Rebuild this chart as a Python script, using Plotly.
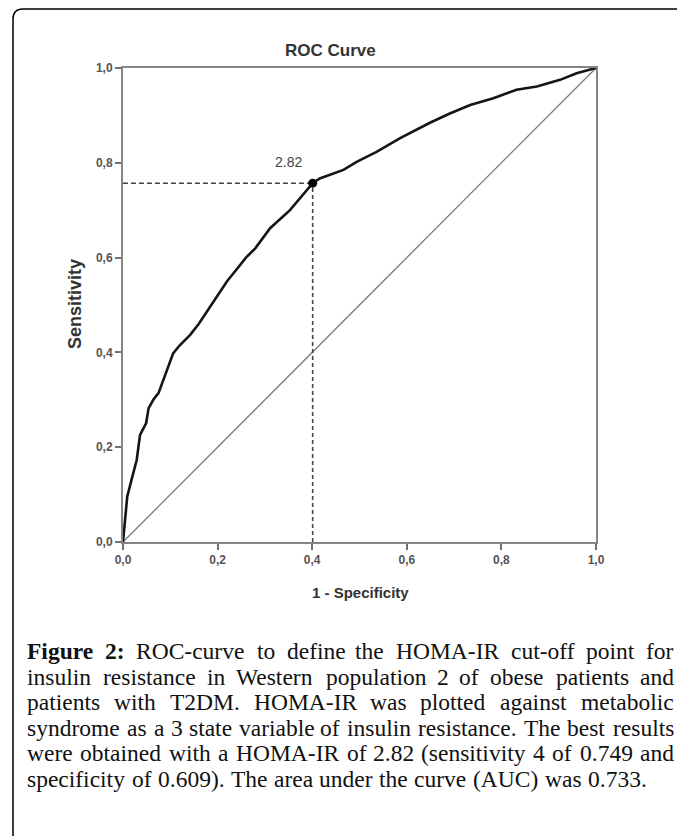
import plotly.graph_objects as go

# ---------------- data ----------------
fpr = [0, 0.004, 0.009, 0.018, 0.029, 0.036, 0.049, 0.054, 0.064, 0.075, 0.085,
       0.096, 0.106, 0.12, 0.142, 0.16, 0.18, 0.2, 0.22, 0.24, 0.26, 0.28, 0.311,
       0.353, 0.381, 0.401, 0.416, 0.44, 0.466, 0.494, 0.536, 0.586, 0.62, 0.65,
       0.691, 0.734, 0.783, 0.832, 0.875, 0.924, 0.959, 1.0]
tpr = [0, 0.05, 0.096, 0.131, 0.173, 0.226, 0.251, 0.282, 0.30, 0.314, 0.342,
       0.370, 0.398, 0.415, 0.437, 0.46, 0.49, 0.52, 0.55, 0.575, 0.60, 0.62, 0.662,
       0.700, 0.732, 0.757, 0.767, 0.776, 0.785, 0.802, 0.823, 0.852, 0.87, 0.885,
       0.904, 0.922, 0.936, 0.954, 0.961, 0.975, 0.989, 1.0]
ref_x = [0, 1]
ref_y = [0, 1]
cut_x = 0.401
cut_y = 0.757
cut_label = "2.82"
tick_vals = [0, 0.2, 0.4, 0.6, 0.8, 1.0]
tick_text = ["0,0", "0,2", "0,4", "0,6", "0,8", "1,0"]
title_text = "ROC Curve"
x_title = "1 - Specificity"
y_title = "Sensitivity"
caption_lines = [
    ("<b>Figure</b> <b>2:</b> ROC-curve to define the HOMA-IR cut-off point for", True),
    ("insulin resistance in Western population 2 of obese patients and", True),
    ("patients with T2DM. HOMA-IR was plotted against metabolic", True),
    ("syndrome as a 3 state variable of insulin resistance. The best results", True),
    ("were obtained with a HOMA-IR of 2.82 (sensitivity 4 of 0.749 and", True),
    ("specificity of 0.609). The area under the curve (AUC) was 0.733.", False),
]

# ---------------- geometry (reference pixels) ----------------
W, H = 677, 836
PL, PT, PR, PB = 123, 68, 596, 542          # plot box
PW, PH = PR - PL, PB - PT


def px(xp):
    return (xp - PL) / PW


def py(yp):
    return (PB - yp) / PH


fig = go.Figure()

fig.add_trace(go.Scatter(x=ref_x, y=ref_y, mode="lines",
                         line=dict(color="#7a7a7a", width=1.3), hoverinfo="skip"))
fig.add_trace(go.Scatter(x=[0, cut_x], y=[cut_y, cut_y], mode="lines",
                         line=dict(color="#444444", width=1.6, dash="5px,3px"),
                         hoverinfo="skip"))
fig.add_trace(go.Scatter(x=[cut_x, cut_x], y=[0, cut_y], mode="lines",
                         line=dict(color="#444444", width=1.6, dash="4px,3px"),
                         hoverinfo="skip"))
fig.add_trace(go.Scatter(x=fpr, y=tpr, mode="lines",
                         line=dict(color="#151515", width=2.6)))
fig.add_trace(go.Scatter(x=[cut_x], y=[cut_y], mode="markers",
                         marker=dict(color="black", size=9)))

axis_common = dict(range=[0, 1], showgrid=False, zeroline=False, showline=True,
                   linecolor="#858585", linewidth=2, mirror=True, ticks="outside",
                   ticklen=6, tickwidth=2, tickcolor="#707070",
                   tickvals=tick_vals, ticktext=tick_text,
                   tickfont=dict(family="Liberation Sans", size=12, color="#555555",
                                 weight="bold"))

fig.update_xaxes(**axis_common)
fig.update_yaxes(**axis_common)

annotations = [
    dict(text=cut_label, x=cut_x, y=cut_y, xref="x", yref="y", showarrow=False,
         xanchor="center", yanchor="middle", xshift=289 - (PL + cut_x * PW),
         yshift=(PB - cut_y * PH) - 162,
         font=dict(family="Liberation Sans", size=14, color="#444444")),
    dict(text="<b>%s</b>" % title_text, x=px(330), y=py(50), xref="paper", yref="paper",
         showarrow=False, xanchor="center", yanchor="middle",
         font=dict(family="Liberation Sans", size=17, color="#333333")),
    dict(text="<b>%s</b>" % x_title, x=px(360), y=py(592), xref="paper", yref="paper",
         showarrow=False, xanchor="center", yanchor="middle",
         font=dict(family="Liberation Sans", size=15, color="#333333")),
    dict(text="<b>%s</b>" % y_title, x=px(75), y=py(304), xref="paper", yref="paper",
         showarrow=False, xanchor="center", yanchor="middle", textangle=-90,
         font=dict(family="Liberation Sans", size=18, color="#333333")),
]

# ---------------- caption, manually justified ----------------
reg = {' ': 250, 'a': 444, 'b': 500, 'c': 444, 'd': 500, 'e': 444, 'f': 333, 'g': 500,
       'h': 500, 'i': 278, 'j': 278, 'k': 500, 'l': 278, 'm': 778, 'n': 500, 'o': 500,
       'p': 500, 'q': 500, 'r': 333, 's': 389, 't': 278, 'u': 500, 'v': 500, 'w': 722,
       'x': 500, 'y': 500, 'z': 444, 'A': 722, 'B': 667, 'C': 667, 'D': 722, 'E': 611,
       'F': 556, 'G': 722, 'H': 722, 'I': 333, 'J': 389, 'K': 722, 'L': 611, 'M': 889,
       'N': 722, 'O': 722, 'P': 556, 'Q': 722, 'R': 667, 'S': 556, 'T': 611, 'U': 722,
       'V': 722, 'W': 944, 'X': 722, 'Y': 722, 'Z': 611, '.': 250, ',': 250, ':': 278,
       '-': 333, '(': 333, ')': 333}
bold = {'F': 611, 'i': 278, 'g': 500, 'u': 556, 'r': 444, 'e': 444, '2': 500, ':': 333}

FS = 23.5
CAP_L, CAP_R = 26, 675
line_y = [651, 676.5, 702, 727.5, 753, 778.5]
WSCALE = 1.012


def word_width(w):
    if w.startswith("<b>"):
        s = w[3:-4]
        return sum(bold.get(c, 500) for c in s) * FS / 1000 * WSCALE
    return sum(reg.get(c, 500) for c in w) * FS / 1000 * WSCALE


cap_font = dict(family="Liberation Serif", size=FS, color="#111111")
for (line, justify), yline in zip(caption_lines, line_y):
    words = line.split(" ")
    n = len(words)
    widths = [word_width(w) for w in words]
    if justify and n > 1:
        gap = (CAP_R - CAP_L - sum(widths)) / (n - 1)
    else:
        gap = reg[' '] * FS / 1000
    for i, w in enumerate(words):
        if justify and i >= n / 2:
            # place from the right end so estimation errors do not pile up
            xr = CAP_R - sum(widths[i + 1:]) - gap * (n - 1 - i)
            xpos, anchor = xr, "right"
        else:
            xpos, anchor = CAP_L + sum(widths[:i]) + gap * i, "left"
        annotations.append(dict(text=w, x=px(xpos), y=py(yline),
                                xref="paper", yref="paper", showarrow=False,
                                xanchor=anchor, yanchor="middle",
                                borderpad=0, font=cap_font))

# ---------------- rounded frame (open at right and bottom, as cropped) ----------------
fx, fy, rad = 13, 9, 10
frame_path = ("M %f,%f L %f,%f Q %f,%f %f,%f L %f,%f" % (
    px(fx), py(850), px(fx), py(fy + rad), px(fx), py(fy), px(fx + rad), py(fy),
    px(700), py(fy)))

fig.update_layout(
    width=W, height=H,
    margin=dict(l=PL, r=W - PR, t=PT, b=H - PB, pad=0),
    paper_bgcolor="white", plot_bgcolor="white",
    showlegend=False,
    annotations=annotations,
    shapes=[dict(type="path", path=frame_path, xref="paper", yref="paper",
                 line=dict(color="black", width=1.5))],
)

fig.write_html("out.html", config={"displayModeBar": False},
               post_script="document.body.style.margin='0';"
                           "document.body.style.overflow='hidden';")
